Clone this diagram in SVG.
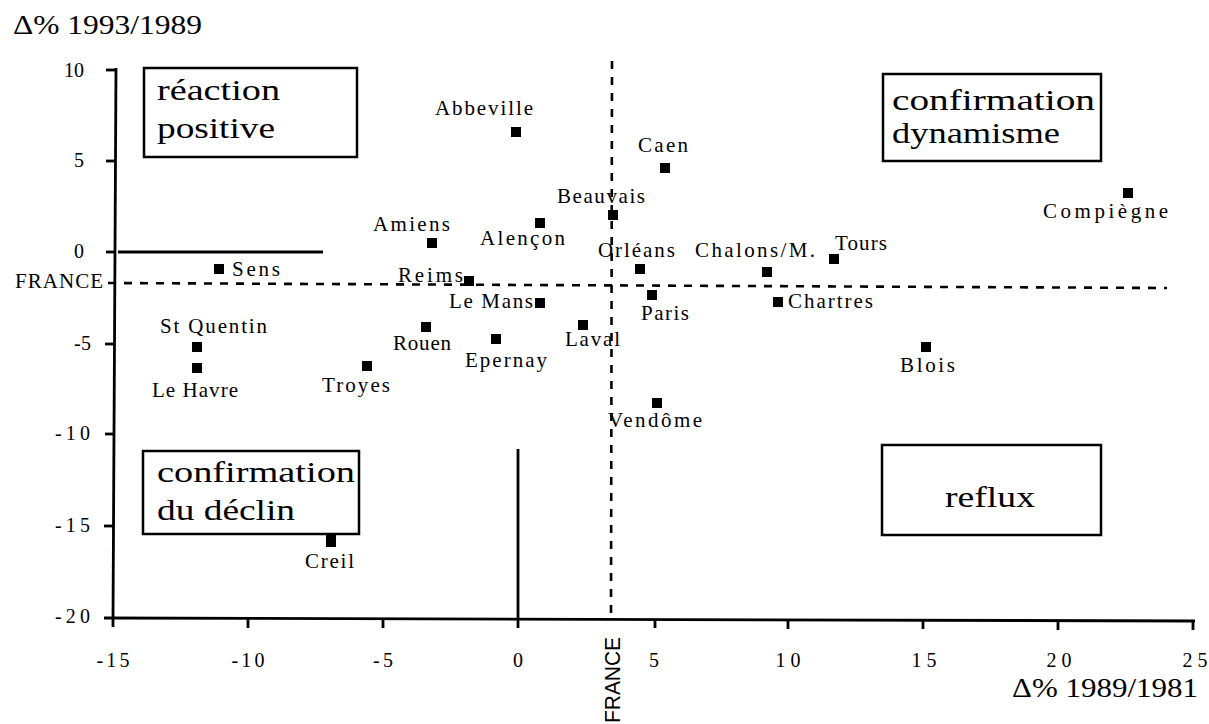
<svg xmlns="http://www.w3.org/2000/svg" width="1209" height="724" viewBox="0 0 1209 724">
<style>
text { font-family: "Liberation Serif", "Times New Roman", serif; fill: #000; }
text.sans { font-family: "Liberation Sans", Arial, sans-serif; }
.lbl { font-size: 21px; }
.tk { font-size: 20px; }
.ttl { font-size: 27px; }
.bt { font-size: 29px; }
.box { fill: #fff; stroke: #000; stroke-width: 2.5; }
.ax { stroke: #000; stroke-width: 2.8; fill: none; }
.dash { stroke: #000; stroke-width: 2.6; stroke-dasharray: 8 8; fill: none; }
.pt { fill: #000; }
</style>
<rect width="1209" height="724" fill="#fff"/>

<g id="titles">
<text class="ttl" x="13" y="34" textLength="189" lengthAdjust="spacingAndGlyphs">Δ% 1993/1989</text>
<text class="ttl" x="1012" y="697" textLength="186" lengthAdjust="spacingAndGlyphs">Δ% 1989/1981</text>
</g>

<g id="axes">
<line class="ax" x1="116" y1="68" x2="113" y2="619"/>
<line class="ax" x1="104" y1="618" x2="1195" y2="621"/>
<g class="ax">
<line x1="106" y1="70" x2="116" y2="70"/>
<line x1="106" y1="161" x2="116" y2="161"/>
<line x1="106" y1="252" x2="116" y2="252"/>
<line x1="105" y1="344" x2="115" y2="344"/>
<line x1="105" y1="434" x2="115" y2="434"/>
<line x1="104" y1="526" x2="114" y2="526"/>
<line x1="113" y1="618" x2="113" y2="627"/>
<line x1="248" y1="618" x2="248" y2="628"/>
<line x1="383" y1="619" x2="383" y2="628"/>
<line x1="518" y1="619" x2="518" y2="628"/>
<line x1="655" y1="620" x2="655" y2="628"/>
<line x1="788" y1="620" x2="788" y2="629"/>
<line x1="923" y1="620" x2="923" y2="629"/>
<line x1="1058" y1="621" x2="1058" y2="630"/>
<line x1="1193" y1="621" x2="1193" y2="630"/>
</g>
<g class="tk">
<text x="84" y="77" text-anchor="end" textLength="20">10</text>
<text x="84" y="167" text-anchor="end">5</text>
<text x="84" y="258" text-anchor="end">0</text>
<text x="91" y="350" text-anchor="end" textLength="17">-5</text>
<text x="90" y="440" text-anchor="end" textLength="35">-10</text>
<text x="90" y="532" text-anchor="end" textLength="35">-15</text>
<text x="90" y="623" text-anchor="end" textLength="35">-20</text>
<text x="113" y="667" text-anchor="middle" textLength="33">-15</text>
<text x="248" y="667" text-anchor="middle" textLength="33">-10</text>
<text x="383" y="667" text-anchor="middle" textLength="20">-5</text>
<text x="518" y="667" text-anchor="middle">0</text>
<text x="654" y="667" text-anchor="middle">5</text>
<text x="788" y="667" text-anchor="middle" textLength="25">10</text>
<text x="924" y="667" text-anchor="middle" textLength="25">15</text>
<text x="1059" y="667" text-anchor="middle" textLength="25">20</text>
<text x="1195" y="667" text-anchor="middle" textLength="25">25</text>
</g>
</g>

<g id="reference-lines">
<line class="ax" x1="118" y1="252" x2="323" y2="252" stroke-width="2.4"/>
<line class="ax" x1="518" y1="449" x2="518" y2="619" stroke-width="2.4"/>
<line class="dash" x1="108" y1="283" x2="1167" y2="288"/>
<line class="dash" x1="612" y1="61" x2="611" y2="618"/>
<text class="lbl" x="15" y="288" textLength="88">FRANCE</text>
<text class="sans" x="0" y="0" transform="translate(620,723) rotate(-90)" font-size="22" textLength="86" lengthAdjust="spacingAndGlyphs">FRANCE</text>
</g>

<g id="points">
<rect class="pt" x="511" y="127" width="10" height="10"/>
<rect class="pt" x="660" y="163" width="10" height="10"/>
<rect class="pt" x="608" y="210" width="10" height="10"/>
<rect class="pt" x="535" y="218" width="10" height="10"/>
<rect class="pt" x="427" y="238" width="10" height="10"/>
<rect class="pt" x="635" y="264" width="10" height="10"/>
<rect class="pt" x="762" y="267" width="10" height="10"/>
<rect class="pt" x="829" y="254" width="10" height="10"/>
<rect class="pt" x="1123" y="188" width="10" height="10"/>
<rect class="pt" x="464" y="276" width="10" height="10"/>
<rect class="pt" x="214" y="264" width="10" height="10"/>
<rect class="pt" x="535" y="298" width="10" height="10"/>
<rect class="pt" x="647" y="290" width="10" height="10"/>
<rect class="pt" x="773" y="297" width="10" height="10"/>
<rect class="pt" x="192" y="342" width="10" height="10"/>
<rect class="pt" x="192" y="363" width="10" height="10"/>
<rect class="pt" x="421" y="322" width="10" height="10"/>
<rect class="pt" x="578" y="320" width="10" height="10"/>
<rect class="pt" x="491" y="334" width="10" height="10"/>
<rect class="pt" x="362" y="361" width="10" height="10"/>
<rect class="pt" x="921" y="342" width="10" height="10"/>
<rect class="pt" x="652" y="398" width="10" height="10"/>
<rect class="pt" x="326" y="535" width="10" height="12"/>
</g>

<g id="point-labels" class="lbl">
<text x="435" y="115" textLength="98">Abbeville</text>
<text x="638" y="152" textLength="50">Caen</text>
<text x="557" y="203" textLength="88">Beauvais</text>
<text x="480" y="245" textLength="85">Alençon</text>
<text x="373" y="231" textLength="77">Amiens</text>
<text x="598" y="257" textLength="77">Orléans</text>
<text x="695" y="257" textLength="120">Chalons/M.</text>
<text x="835" y="250" textLength="52">Tours</text>
<text x="1043" y="218" textLength="125">Compiègne</text>
<text x="398" y="282" textLength="65">Reims</text>
<text x="232" y="276" textLength="48">Sens</text>
<text x="449" y="308" textLength="84">Le Mans</text>
<text x="641" y="320" textLength="48">Paris</text>
<text x="788" y="308" textLength="85">Chartres</text>
<text x="160" y="333" textLength="107">St Quentin</text>
<text x="393" y="350" textLength="58">Rouen</text>
<text x="565" y="346" textLength="55">Laval</text>
<text x="465" y="367" textLength="82">Epernay</text>
<text x="900" y="372" textLength="55">Blois</text>
<text x="152" y="397" textLength="86">Le Havre</text>
<text x="322" y="392" textLength="68">Troyes</text>
<text x="608" y="427" textLength="94">Vendôme</text>
<text x="305" y="568" textLength="49">Creil</text>
</g>

<g id="box-reaction-positive">
<rect class="box" x="144" y="68" width="213" height="89"/>
<text class="bt" x="157" y="100" textLength="123" lengthAdjust="spacingAndGlyphs">réaction</text>
<text class="bt" x="157" y="138" textLength="118" lengthAdjust="spacingAndGlyphs">positive</text>
</g>

<g id="box-confirmation-dynamisme">
<rect class="box" x="883" y="74" width="218" height="87"/>
<text class="bt" x="892" y="110" textLength="203" lengthAdjust="spacingAndGlyphs">confirmation</text>
<text class="bt" x="892" y="143" textLength="168" lengthAdjust="spacingAndGlyphs">dynamisme</text>
</g>

<g id="box-confirmation-declin">
<rect class="box" x="143" y="451" width="216" height="83"/>
<text class="bt" x="157" y="482" textLength="198" lengthAdjust="spacingAndGlyphs">confirmation</text>
<text class="bt" x="157" y="520" textLength="138" lengthAdjust="spacingAndGlyphs">du déclin</text>
</g>

<g id="box-reflux">
<rect class="box" x="882" y="445" width="219" height="90"/>
<text class="bt" x="945" y="507" textLength="90" lengthAdjust="spacingAndGlyphs">reflux</text>
</g>
</svg>
